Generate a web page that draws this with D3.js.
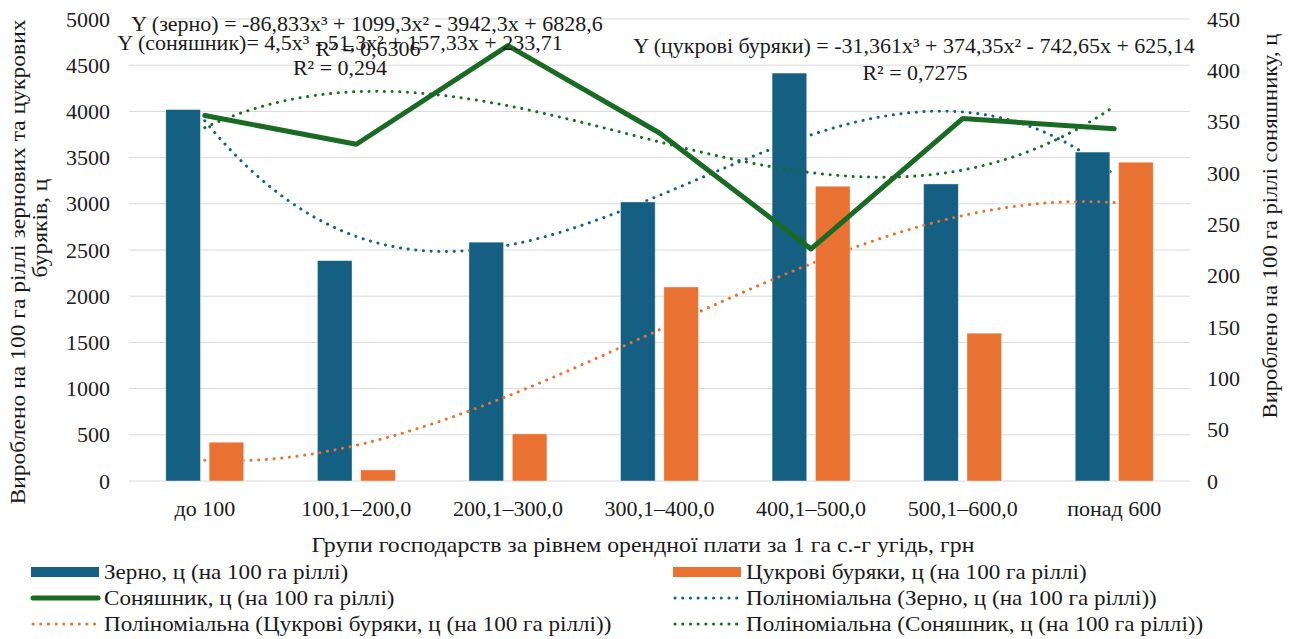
<!DOCTYPE html>
<html>
<head>
<meta charset="utf-8">
<script src="https://cdn.jsdelivr.net/npm/d3@7"></script>
<style>
    body { margin: 0; background: #fff; }
    svg text { font-family: "Liberation Serif", serif; fill: #1a1a1a; }
</style>
</head>
<body>
<div id="chart"></div>
<script>
// Chart data
const categories = ["до 100", "100,1–200,0", "200,1–300,0", "300,1–400,0", "400,1–500,0", "500,1–600,0", "понад 600"];
const grain = [4020, 2385, 2585, 3020, 4415, 3215, 3560];
const beet = [420, 120, 510, 2100, 3190, 1600, 3450];
const sunflower = [356, 328, 424, 339, 226, 353, 343];
const leftTicks = d3.range(0, 5001, 500);
const rightTicks = d3.range(0, 451, 50);

// Trendline coefficients as printed on the chart (a3, a2, a1, a0)
const grainTrend = [-86.833, 1099.3, -3942.3, 6828.6];
const beetTrend = [-31.361, 374.35, -742.65, 625.14];
const sunTrend = [4.5, -51.3, 157.33, 233.71];

const colors = { grain: "#156082", beet: "#E97132", sun: "#196B24" };

const width = 1293, height = 639;
const plot = { left: 129, right: 1190, top: 19, bottom: 481 };
const fs = 22;
const dots = "0.1 7.6";

const svg = d3.select("#chart").append("svg")
    .attr("width", width)
    .attr("height", height);

// stretch a text to a wider width (the original font is wider than Liberation Serif)
function stretch(sel, k) {
    sel.each(function() {
        const w = this.getComputedTextLength();
        d3.select(this).attr("textLength", w * k).attr("lengthAdjust", "spacingAndGlyphs");
    });
}

// Scales
const x = d3.scaleBand()
    .domain(categories)
    .range([plot.left, plot.right])
    .padding(0);

const xSub = d3.scaleBand()
    .domain(["grain", "beet"])
    .range([x.bandwidth() / 2 - 39, x.bandwidth() / 2 + 39])
    .paddingInner(0.2);

const yL = d3.scaleLinear().domain([0, 5000]).range([plot.bottom, plot.top]);
const yR = d3.scaleLinear().domain([0, 450]).range([plot.bottom, plot.top]);

// trendline x: 1..7 mapped onto category centres
const xt = d3.scaleLinear()
    .domain([1, categories.length])
    .range([x(categories[0]) + x.bandwidth() / 2, x(categories[categories.length - 1]) + x.bandwidth() / 2]);

// Gridlines
svg.append("g")
    .selectAll("line")
    .data(leftTicks)
    .enter().append("line")
    .attr("x1", plot.left)
    .attr("x2", plot.right)
    .attr("y1", d => yL(d))
    .attr("y2", d => yL(d))
    .attr("stroke", "#d9d9d9")
    .attr("stroke-width", 1);

// Left axis
const leftAxis = svg.append("g")
    .attr("transform", `translate(${plot.left}, 0)`)
    .call(d3.axisLeft(yL).tickValues(leftTicks).tickFormat(d3.format("d")).tickSize(0).tickPadding(19));
leftAxis.select(".domain").remove();
leftAxis.selectAll("text").attr("font-size", fs).style("font-family", "Liberation Serif").attr("fill", "#1a1a1a");

// Right axis
const rightAxis = svg.append("g")
    .attr("transform", `translate(${plot.right}, 0)`)
    .call(d3.axisRight(yR).tickValues(rightTicks).tickFormat(d3.format("d")).tickSize(0).tickPadding(17));
rightAxis.select(".domain").remove();
rightAxis.selectAll("text").attr("font-size", fs).style("font-family", "Liberation Serif").attr("fill", "#1a1a1a");

// Bottom axis
const bottomAxis = svg.append("g")
    .attr("transform", `translate(0, ${plot.bottom})`)
    .call(d3.axisBottom(x).tickSize(0).tickPadding(19));
bottomAxis.select(".domain").remove();
bottomAxis.selectAll("text").attr("font-size", fs).style("font-family", "Liberation Serif").attr("fill", "#1a1a1a");

// Trendlines
function poly(c, t) {
    return c[0] * t * t * t + c[1] * t * t + c[2] * t + c[3];
}
const ts = d3.range(1, categories.length + 0.001, 0.05);

function trend(coefs, yScale, color) {
    svg.append("path")
        .datum(ts)
        .attr("fill", "none")
        .attr("stroke", color)
        .attr("stroke-width", 3)
        .attr("stroke-linecap", "round")
        .attr("stroke-dasharray", dots)
        .attr("d", d3.line().x(t => xt(t)).y(t => yScale(poly(coefs, t))));
}

function bars(values, key, color) {
    svg.append("g")
        .selectAll("rect")
        .data(values)
        .enter().append("rect")
        .attr("x", (d, i) => x(categories[i]) + xSub(key))
        .attr("width", xSub.bandwidth())
        .attr("y", d => yL(d))
        .attr("height", d => yL(0) - yL(d))
        .attr("fill", color)
        .attr("stroke", "#ffffff")
        .attr("stroke-opacity", 0.6)
        .attr("stroke-width", 0.7);
}

// drawing order as in the original: each trendline sits under its own bars
trend(grainTrend, yL, colors.grain);
bars(grain, "grain", colors.grain);
trend(beetTrend, yL, colors.beet);
bars(beet, "beet", colors.beet);

// Sunflower line
svg.append("path")
    .datum(sunflower)
    .attr("fill", "none")
    .attr("stroke", colors.sun)
    .attr("stroke-width", 5)
    .attr("stroke-linejoin", "round")
    .attr("stroke-linecap", "round")
    .attr("d", d3.line().x((d, i) => x(categories[i]) + x.bandwidth() / 2).y(d => yR(d)));

trend(sunTrend, yR, colors.sun);

// Trendline equations
const eqs = [
    { text: "Y (зерно) = -86,833x³ + 1099,3x² - 3942,3x + 6828,6", x: 367, y: 31 },
    { text: "Y (соняшник)= 4,5x³ - 51,3x² + 157,33x + 233,71", x: 340, y: 50 },
    { text: "R² = 0,6306", x: 368, y: 56 },
    { text: "R² = 0,294", x: 340, y: 75 },
    { text: "Y (цукрові буряки) = -31,361x³ + 374,35x² - 742,65x + 625,14", x: 914, y: 53 },
    { text: "R² = 0,7275", x: 915, y: 80 }
];
svg.append("g")
    .selectAll("text")
    .data(eqs)
    .enter().append("text")
    .attr("x", d => d.x)
    .attr("y", d => d.y)
    .attr("text-anchor", "middle")
    .attr("font-size", fs)
    .text(d => d.text);

// Axis titles
svg.append("text")
    .attr("transform", "translate(25, 262) rotate(-90)")
    .attr("text-anchor", "middle")
    .attr("font-size", fs)
    .text("Вироблено на 100 га ріллі зернових та цукрових")
    .call(stretch, 1.07);
svg.append("text")
    .attr("transform", "translate(47, 228) rotate(-90)")
    .attr("text-anchor", "middle")
    .attr("font-size", fs)
    .text("буряків, ц")
    .call(stretch, 1.07);
svg.append("text")
    .attr("transform", "translate(1277, 226) rotate(-90)")
    .attr("text-anchor", "middle")
    .attr("font-size", fs)
    .text("Вироблено на 100 га ріллі соняшнику, ц")
    .call(stretch, 1.03);
svg.append("text")
    .attr("x", 643)
    .attr("y", 552)
    .attr("text-anchor", "middle")
    .attr("font-size", fs)
    .text("Групи господарств за рівнем орендної плати за 1 га с.-г угідь, грн")
    .call(stretch, 1.08);

// Legend
const legendItems = [
    { label: "Зерно, ц (на 100 га ріллі)", type: "rect", color: colors.grain, col: 0, row: 0 },
    { label: "Цукрові буряки, ц (на 100 га ріллі)", type: "rect", color: colors.beet, col: 1, row: 0 },
    { label: "Соняшник, ц (на 100 га ріллі)", type: "line", color: colors.sun, col: 0, row: 1 },
    { label: "Поліноміальна (Зерно, ц (на 100 га ріллі))", type: "dot", color: colors.grain, col: 1, row: 1 },
    { label: "Поліноміальна (Цукрові буряки, ц (на 100 га ріллі))", type: "dot", color: colors.beet, col: 0, row: 2 },
    { label: "Поліноміальна (Соняшник, ц (на 100 га ріллі))", type: "dot", color: colors.sun, col: 1, row: 2 }
];
const legend = svg.append("g")
    .selectAll("g")
    .data(legendItems)
    .enter().append("g")
    .attr("transform", d => `translate(${d.col ? 673 : 31}, ${572 + d.row * 26})`);

legend.filter(d => d.type === "rect").append("rect")
    .attr("x", 0).attr("y", -5).attr("width", 68).attr("height", 10)
    .attr("fill", d => d.color);
legend.filter(d => d.type === "line").append("line")
    .attr("x1", 2).attr("x2", 67).attr("y1", 0).attr("y2", 0)
    .attr("stroke", d => d.color).attr("stroke-width", 5).attr("stroke-linecap", "round");
legend.filter(d => d.type === "dot").append("line")
    .attr("x1", 2).attr("x2", 68).attr("y1", 0).attr("y2", 0)
    .attr("stroke", d => d.color).attr("stroke-width", 3)
    .attr("stroke-linecap", "round").attr("stroke-dasharray", dots);
legend.append("text")
    .attr("x", 73)
    .attr("y", 7)
    .attr("font-size", fs)
    .text(d => d.label)
    .call(stretch, 1.05);
</script>
</body>
</html>
